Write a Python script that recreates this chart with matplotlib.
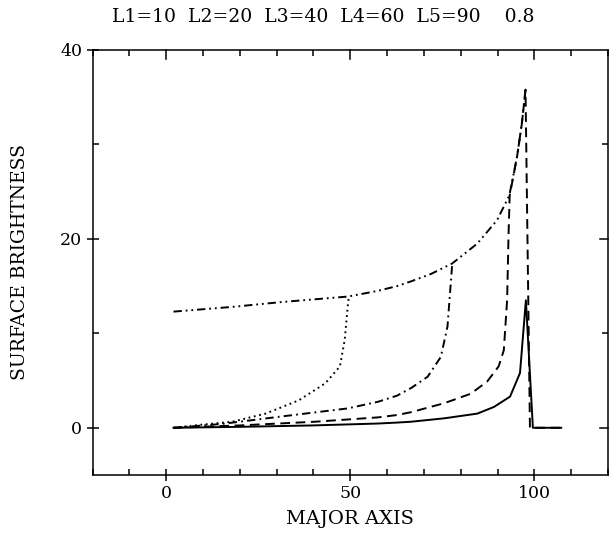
import numpy as np
import matplotlib
matplotlib.use("Agg")
import matplotlib.pyplot as plt
from matplotlib.ticker import MultipleLocator

plt.rcParams['font.family'] = ['DejaVu Serif']
plt.rcParams['lines.scale_dashes'] = False

# values
title_text = "L1=10  L2=20  L3=40  L4=60  L5=90    0.8"

# upper envelope (dash-dot-dot), rises to the peak near the edge
x_env = [2, 18, 31, 49.5, 57.5, 62.7, 66.5, 72, 77.7, 84.5, 89.9, 93.2, 95.3, 96.6, 97.6]
y_env = [12.3, 12.8, 13.3, 13.9, 14.5, 15.0, 15.5, 16.3, 17.4, 19.5, 22.0, 24.6, 28.7, 32.2, 35.8]

# dotted
x_dot = [2, 9, 18, 27, 36, 43.2, 47.2, 48.5, 49.3, 49.6]
y_dot = [0, 0.3, 0.64, 1.5, 2.9, 4.7, 6.5, 9.3, 12.8, 13.9]

# dash-dot
x_dd = [2, 15, 31.4, 49.3, 57.5, 62.7, 66.5, 71, 74.6, 76.4, 77.3, 77.7]
y_dd = [0, 0.4, 1.2, 2.05, 2.75, 3.4, 4.2, 5.4, 7.5, 10.7, 15.3, 17.4]

# dashed
x_dash = [2, 20, 40.4, 57.5, 62.7, 66.5, 75.5, 82.7, 87.2, 90.3, 91.7, 92.6, 93.0, 93.3,
          95.3, 96.6, 97.6, 98.8, 107]
y_dash = [0, 0.25, 0.64, 1.1, 1.35, 1.65, 2.6, 3.6, 4.9, 6.5, 8.2, 13.5, 20.6, 24.6,
          28.7, 32.2, 35.8, 0, 0]

# solid
x_sol = [2, 20, 40, 57.5, 62.7, 66.5, 75.5, 84.5, 89, 93.4, 96.1, 97.7, 99.6, 107.3]
y_sol = [0, 0.1, 0.25, 0.45, 0.55, 0.64, 1.0, 1.5, 2.2, 3.3, 5.8, 13.5, 0, 0]

fig = plt.figure(figsize=(6.09, 5.35), dpi=100)
ax = fig.add_axes([92.5/609, 60/535, (608 - 92.5)/609, 425/535])

lw = 1.4
ax.plot(x_sol, y_sol, color='black', lw=lw)
ax.plot(x_dash, y_dash, color='black', lw=lw, linestyle=(0, (7, 4)))
ax.plot(x_dd, y_dd, color='black', lw=lw, linestyle=(0, (6, 3, 1.3, 3)))
ax.plot(x_dot, y_dot, color='black', lw=lw, linestyle=(0, (1.3, 2.6)))
ax.plot(x_env, y_env, color='black', lw=lw, linestyle=(0, (6, 2.8, 1.3, 2.8, 1.3, 2.8)))

ax.set_xlim(-20, 120)
ax.set_ylim(-5, 40)
ax.xaxis.set_major_locator(MultipleLocator(50))
ax.xaxis.set_minor_locator(MultipleLocator(10))
ax.yaxis.set_major_locator(MultipleLocator(20))
ax.yaxis.set_minor_locator(MultipleLocator(10))

for sp in ax.spines.values():
    sp.set_linewidth(1.1)

ax.tick_params(which='major', direction='inout', length=9, width=1.1,
               top=False, right=False, labelsize=12.5, pad=3)
ax.tick_params(which='minor', direction='in', length=4, width=1.1, top=True, right=True)
# inward-only majors on top and right
for x in [0, 50, 100]:
    ax.plot([x, x], [40, 40 - 0.95], color='black', lw=1.1, clip_on=False)
for y in [0, 20]:
    ax.plot([120, 120 - 2.2], [y, y], color='black', lw=1.1, clip_on=False)

ax.set_xlabel("MAJOR AXIS", fontsize=14)
ax.xaxis.set_label_coords(0.5, -44/425)
ax.xaxis.label.set_va('center')
ax.set_ylabel("SURFACE BRIGHTNESS", fontsize=13.5)
ax.yaxis.set_label_coords((20 - 92.5)/515.5, 0.5)
ax.yaxis.label.set_va('center')

fig.text(323/609, 1 - 17/535, title_text, ha='center', va='center', fontsize=13.5)

fig.savefig("out.png", dpi=100)
